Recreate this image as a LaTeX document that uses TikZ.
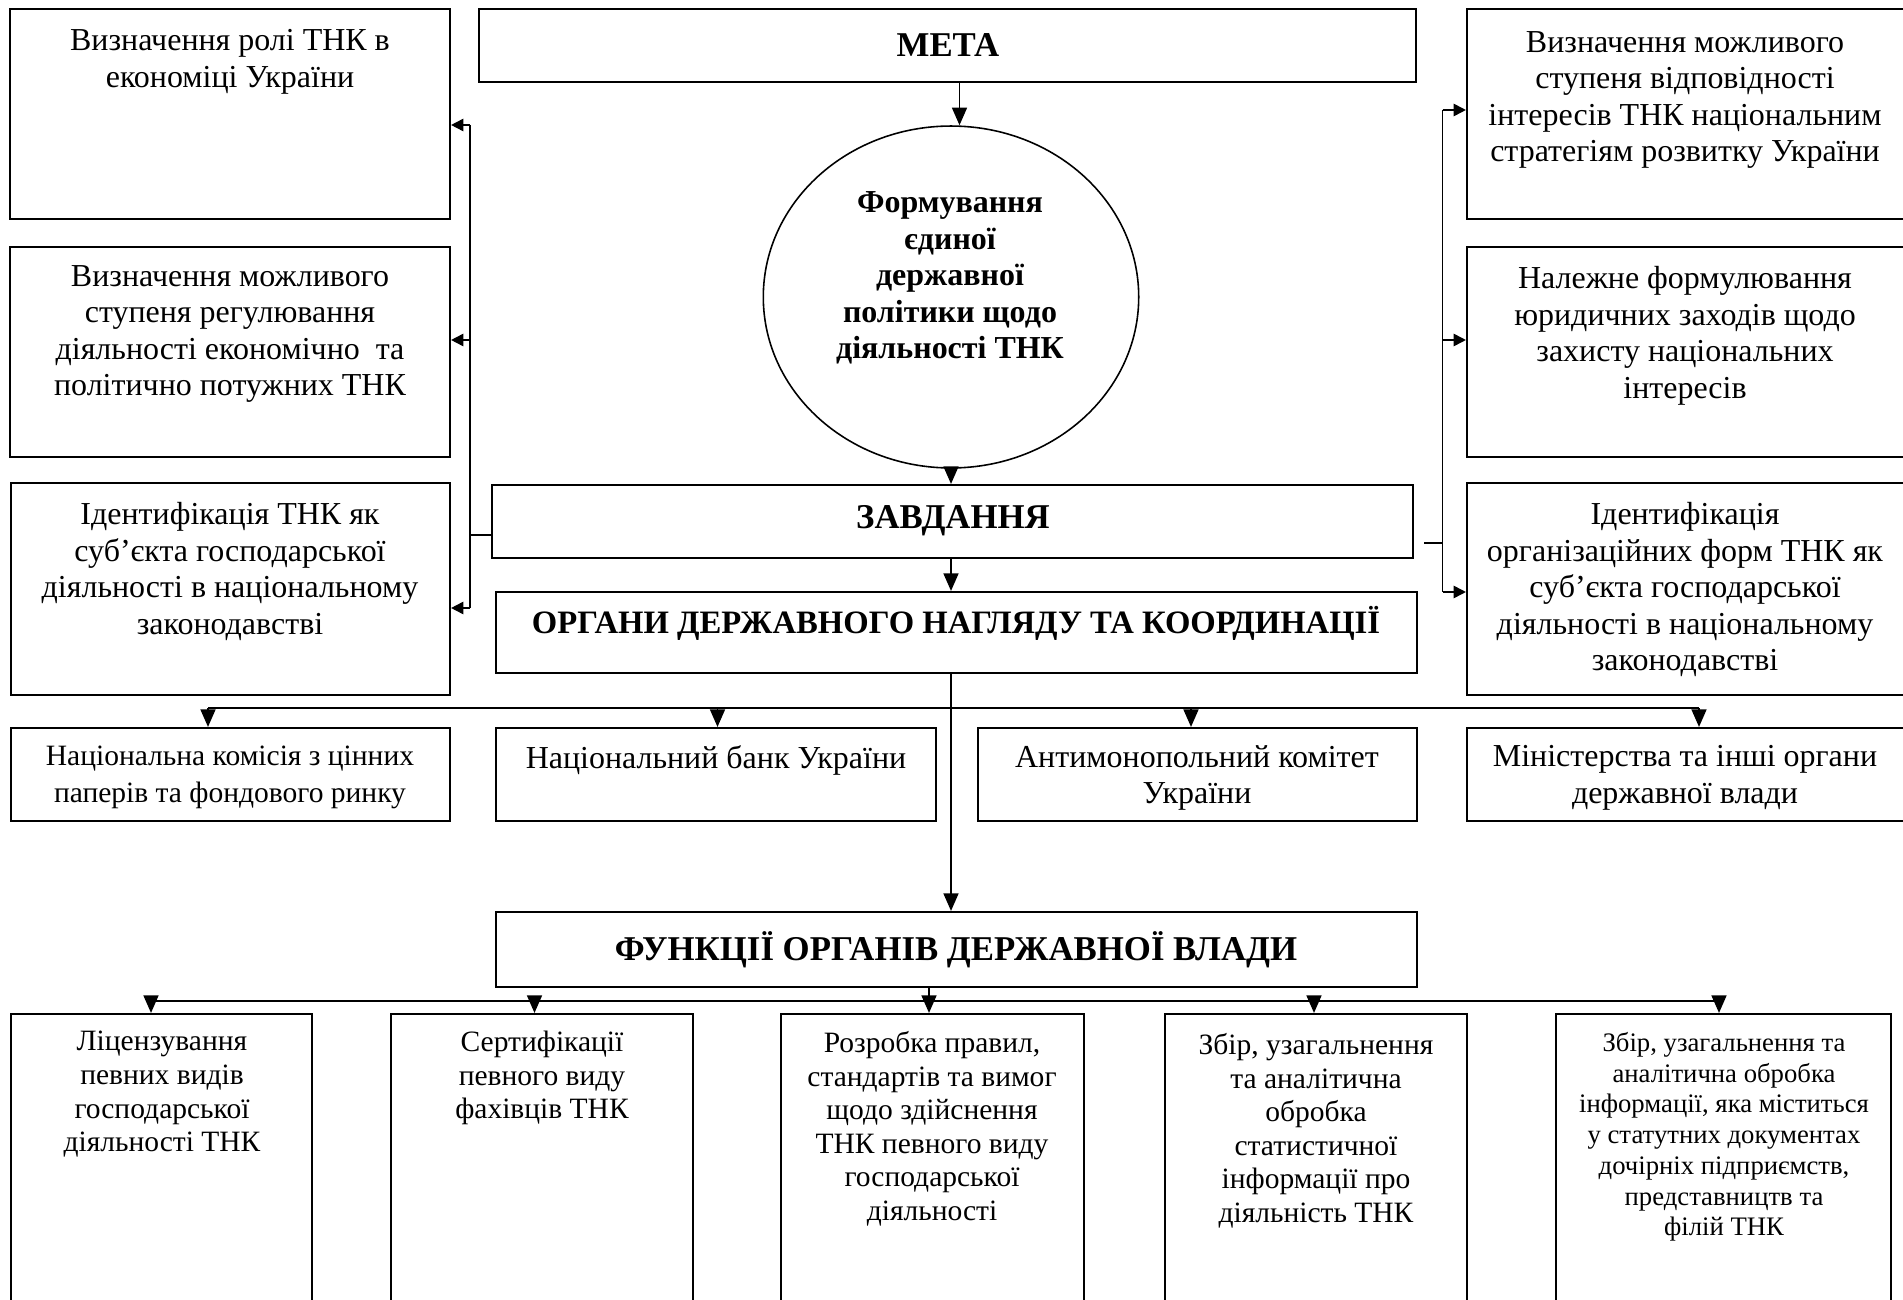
\documentclass[tikz,border=0pt]{standalone}
\usepackage{fontspec}
\setmainfont{Liberation Serif}
\usetikzlibrary{arrows.meta,fit,shapes.geometric}
\begin{document}
\begin{tikzpicture}[x=0.02cm,y=-0.02cm,
  box/.style={draw, line width=1.2pt, inner sep=0pt},
  txt/.style={anchor=north, align=center, inner sep=0pt, font=\fontsize{18.2}{20.8}\selectfont},
  txtb/.style={anchor=north, align=center, inner sep=0pt, font=\fontsize{16.8}{20.8}\selectfont},
  txtc/.style={anchor=north, align=center, inner sep=0pt, font=\fontsize{16.8}{19.1}\selectfont},
  txts/.style={anchor=north, align=center, inner sep=0pt, font=\fontsize{15.2}{17.5}\selectfont},
  ttl/.style={align=center, inner sep=0pt, font=\bfseries\fontsize{19.8}{22}\selectfont},
  con/.style={line width=1pt},
  arr/.style={con, -{Triangle[length=10pt,width=8.5pt]}},
  sarr/.style={con, -{Triangle[length=7pt,width=7pt]}},
]
\useasboundingbox (0,0) rectangle (1903,1300);
\fill[white] (0,0) rectangle (1903,1300);

% left column
\node[box, fit={(10,9) (450,219)}] (a1) {};
\node[box, fit={(10,247) (450,457)}] (a2) {};
\node[box, fit={(11,483) (450,695)}] (a3) {};
\node[txt] (ta1) at (230,29) {Визначення ролі ТНК в\\економіці України};
\node[txt] (ta2) at (230,265) {Визначення можливого\\ступеня регулювання\\діяльності економічно\ \ та\\політично потужних ТНК};
\node[txt] (ta3) at (230,502) {Ідентифікація ТНК як\\суб’єкта господарської\\діяльності в національному\\законодавстві};

% right column
\node[box, fit={(1467,9) (1906,219)}] (r1) {};
\node[box, fit={(1467,247) (1906,457)}] (r2) {};
\node[box, fit={(1467,483) (1906,695)}] (r3) {};
\node[txt] (tr1) at (1685,31) {Визначення можливого\\ступеня відповідності\\інтересів ТНК національним\\стратегіям розвитку України};
\node[txt] (tr2) at (1685,266) {Належне формулювання\\юридичних заходів щодо\\захисту національних\\інтересів};
\node[txt] (tr3) at (1685,502) {Ідентифікація\\організаційних форм ТНК як\\суб’єкта господарської\\діяльності в національному\\законодавстві};

% centre column
\node[box, fit={(479,9) (1416,82)}] (meta) {};
\node[ttl] (tmeta) at (948,45) {МЕТА};
\node[draw, ellipse, line width=0.9pt, minimum width=7.51cm, minimum height=6.84cm, inner sep=0pt] (ell) at (951,297) {};
\node[ttl, font=\bfseries\fontsize{18.2}{20.7}\selectfont] (tell) at (950,278) {Формування\\єдиної\\державної\\політики щодо\\діяльності ТНК};
\node[box, fit={(492,485) (1413,558)}] (zav) {};
\node[ttl] (tzav) at (953,521) {ЗАВДАННЯ};
\node[box, fit={(496,592) (1417,673)}] (org) {};
\node[ttl, font=\bfseries\fontsize{18.6}{21}\selectfont] (torg) at (956,623) {ОРГАНИ ДЕРЖАВНОГО НАГЛЯДУ ТА КООРДИНАЦІЇ};

% organs row
\node[box, fit={(11,728) (450,821)}] (b1) {};
\node[box, fit={(496,728) (936,821)}] (b2) {};
\node[box, fit={(978,728) (1417,821)}] (b3) {};
\node[box, fit={(1467,728) (1906,821)}] (b4) {};
\node[txtb] (tb1) at (230,746) {Національна комісія з цінних\\паперів та фондового ринку};
\node[txt] (tb2) at (716,745) {Національний банк України};
\node[txt] (tb3) at (1197,745) {Антимонопольний комітет\\України};
\node[txt] (tb4) at (1685,745) {Міністерства та інші органи\\державної влади};

% functions
\node[box, fit={(496,912) (1417,987)}] (func) {};
\node[ttl] (tfunc) at (956,950) {ФУНКЦІЇ ОРГАНІВ ДЕРЖАВНОЇ ВЛАДИ};

\node[box, fit={(11,1014) (312,1320)}] (c1) {};
\node[box, fit={(391,1014) (693,1320)}] (c2) {};
\node[box, fit={(781,1014) (1084,1320)}] (c3) {};
\node[box, fit={(1165,1014) (1467,1320)}] (c4) {};
\node[box, fit={(1556,1014) (1891,1320)}] (c5) {};
\node[txtc] (tc1) at (162,1031) {Ліцензування\\певних видів\\господарської\\діяльності ТНК};
\node[txtc] (tc2) at (542,1031) {Сертифікації\\певного виду\\фахівців ТНК};
\node[txtc] (tc3) at (932,1031) {Розробка правил,\\стандартів та вимог\\щодо здійснення\\ТНК певного виду\\господарської\\діяльності};
\node[txtc] (tc4) at (1316,1033) {Збір, узагальнення\\та аналітична\\обробка\\статистичної\\інформації про\\діяльність ТНК};
\node[txts] (tc5) at (1724,1032) {Збір, узагальнення та\\аналітична обробка\\інформації, яка міститься\\у статутних документах\\дочірніх підприємств,\\представництв та\\філій ТНК};

% central connectors
\draw[arr] ([xshift=0.24cm]meta.south) -- ([xshift=0.24cm]meta.south |- ell.north);
\draw[arr] (ell.south) -- (ell.south |- zav.north);
\draw[arr] (zav.south -| ell.south) -- (org.north -| ell.south);
\draw[arr] (org.south -| ell.south) -- (func.north -| ell.south);

% left bracket
\coordinate (lt) at (470,125);
\coordinate (lm) at (470,340);
\coordinate (lb) at (470,608);
\coordinate (ls) at (470,535);
\draw[con] (lt) -- (lb);
\draw[con] (ls -| zav.west) -- (ls);
\draw[sarr] (lt) -- (lt -| a1.east);
\draw[sarr] (lm) -- (lm -| a2.east);
\draw[sarr] (lb) -- (lb -| a3.east);

% right bracket
\coordinate (rt) at (1442.5,110);
\coordinate (rm) at (1442.5,340);
\coordinate (rb) at (1442.5,592);
\coordinate (rs) at (1442.5,543);
\draw[con] (rt) -- (rb);
\draw[con] ([xshift=0.2cm]rs -| zav.east) -- (rs);
\draw[sarr] (rt) -- (rt -| r1.west);
\draw[sarr] (rm) -- (rm -| r2.west);
\draw[sarr] (rb) -- (rb -| r3.west);

% organs distribution
\coordinate (d1) at (208,708);
\coordinate (d2) at (717.5,708);
\coordinate (d3) at (1191,708);
\coordinate (d4) at (1699,708);
\draw[con] (d1) -- (d4);
\draw[arr] (d1) -- (d1 |- b1.north);
\draw[arr] (d2) -- (d2 |- b2.north);
\draw[arr] (d3) -- (d3 |- b3.north);
\draw[arr] (d4) -- (d4 |- b4.north);

% functions distribution
\coordinate (f1) at (151,1001);
\coordinate (f2) at (534.5,1001);
\coordinate (f3) at (929,1001);
\coordinate (f4) at (1314,1001);
\coordinate (f5) at (1719,1001);
\draw[con] (f1) -- (f5);
\draw[con] (f3 |- func.south) -- (f3);
\draw[arr] (f1) -- (f1 |- c1.north);
\draw[arr] (f2) -- (f2 |- c2.north);
\draw[arr] (f3) -- (f3 |- c3.north);
\draw[arr] (f4) -- (f4 |- c4.north);
\draw[arr] (f5) -- (f5 |- c5.north);
\end{tikzpicture}
\end{document}
